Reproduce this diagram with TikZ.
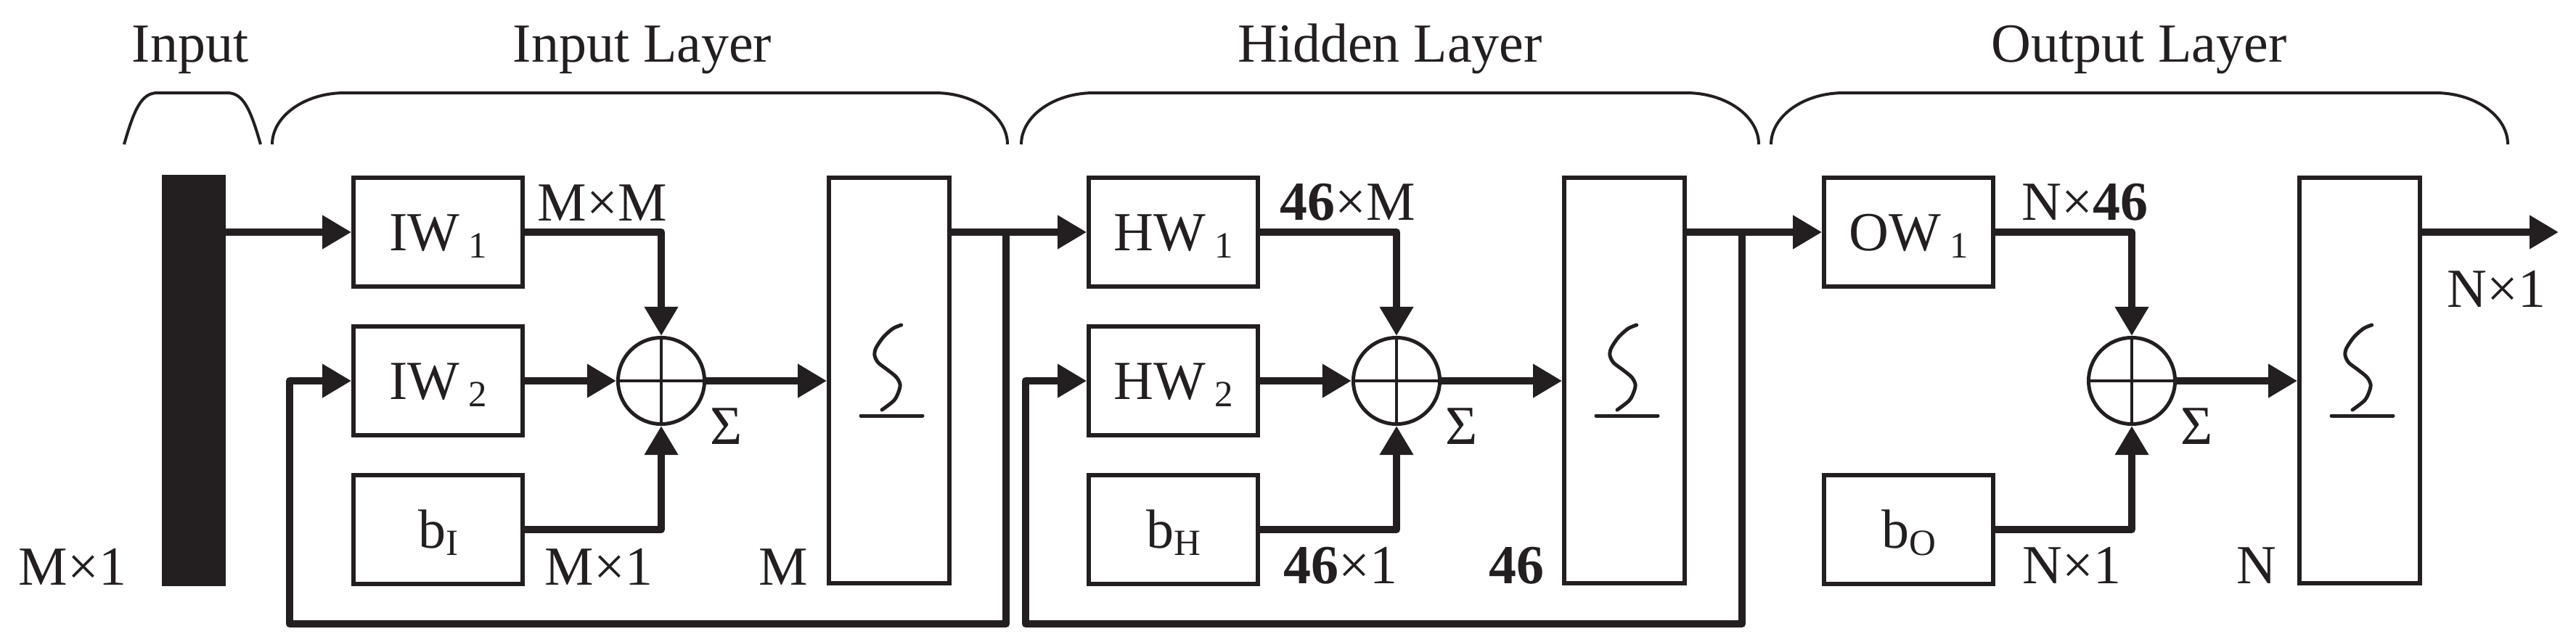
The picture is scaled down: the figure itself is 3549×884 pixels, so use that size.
\documentclass[tikz,border=0pt]{standalone}
\usepackage{fontspec}
\setmainfont{Liberation Serif}
\usetikzlibrary{arrows.meta,calc}
\definecolor{ink}{HTML}{231F20}
\newcommand\lowsub[1]{\raisebox{-0.1cm}{\fontsize{14.5pt}{14.5pt}\selectfont #1}}
\newcommand\wsub[1]{\kern0.12cm\lowsub{#1}}
\begin{document}
\begin{tikzpicture}[x=0.01cm,y=-0.01cm,
  font=\fontsize{21.6pt}{26pt}\selectfont, text=ink,
  box/.style={draw=ink, line width=0.055cm, minimum width=2.33cm, minimum height=1.5cm, inner sep=0pt, text height=0.5cm, text depth=0pt},
  sigbox/.style={draw=ink, line width=0.055cm, minimum width=1.66cm, minimum height=5.59cm, inner sep=0pt},
  sumnode/.style={circle, draw=ink, line width=0.05cm, minimum size=1.19cm, inner sep=0pt},
  cross/.style={draw=ink, line width=0.037cm},
  conn/.style={draw=ink, line width=0.1cm, line cap=round, line join=round},
  arr/.style={conn, -{Triangle[length=0.4cm,width=0.44cm]}},
  brace/.style={draw=ink, line width=0.04cm},
  sigcurve/.style={draw=ink, line width=0.05cm, line cap=round},
  lbl/.style={inner sep=0pt, anchor=base west},
  lble/.style={inner sep=0pt, anchor=base east},
  ttl/.style={inner sep=0pt, anchor=base}]
\useasboundingbox (0,0) rectangle (3549,884);

% titles
\node[ttl] (tIn) at (262,85) {Input};
\node[ttl] (tIL) at (885,85) {Input Layer};
\node[ttl] (tHL) at (1915,85) {Hidden Layer};
\node[ttl] (tOL) at (2947,85) {Output Layer};

% braces
\draw[brace] (171,199) .. controls (185,150) and (195,128) .. (217,128) -- (313,128) .. controls (335,128) and (345,150) .. (359,199);
\draw[brace] (375,199) .. controls (375,160) and (420,128) .. (475,128) -- (1288,128) .. controls (1343,128) and (1388,160) .. (1388,199);
\draw[brace] (1407,199) .. controls (1407,160) and (1452,128) .. (1507,128) -- (2323,128) .. controls (2378,128) and (2423,160) .. (2423,199);
\draw[brace] (2440,199) .. controls (2440,160) and (2485,128) .. (2540,128) -- (3355,128) .. controls (3410,128) and (3455,160) .. (3455,199);

% input bar
\node[fill=ink, minimum width=0.88cm, minimum height=5.67cm, inner sep=0pt] (inbar) at (267,524.5) {};

% layer 1
\node[box] (IW1) at (603.5,320) {IW\wsub{1}};
\node[box] (IW2) at (603.5,525) {IW\wsub{2}};
\node[box] (bI) at (603.5,730) {b\lowsub{I}};
\node[sumnode] (sum1) at (911,525) {};
\node[sigbox] (sig1) at (1225,524.5) {};

% layer 2
\node[box] (HW1) at (1616.5,320) {HW\wsub{1}};
\node[box] (HW2) at (1616.5,525) {HW\wsub{2}};
\node[box] (bH) at (1616.5,730) {b\lowsub{H}};
\node[sumnode] (sum2) at (1924,525) {};
\node[sigbox] (sig2) at (2238,524.5) {};

% layer 3
\node[box] (OW1) at (2629.5,320) {OW\wsub{1}};
\node[box] (bO) at (2629.5,730) {b\lowsub{O}};
\node[sumnode] (sum3) at (2937,525) {};
\node[sigbox] (sig3) at (3251,524.5) {};

% crosses and sigma labels
\foreach \s in {sum1,sum2,sum3}{
  \draw[cross] (\s.north) -- (\s.south) (\s.west) -- (\s.east);
  \node[lbl] (\s-lab) at ($(\s.center)+(67,87)$) {Σ};
}

% sigmoid symbols
\foreach \s in {sig1,sig2,sig3}{
  \begin{scope}[shift={(\s.center)}]
    \draw[sigcurve] plot[smooth] coordinates {(16.7,-76.5) (5,-71.5) (-8.3,-59.5) (-18.3,-44.5) (-20,-34.5) (-15,-24.5) (-2,-14.5) (10,-4.5) (15,5.5) (13,15.5) (6.7,27.5) (-10,40.5)};
    \draw[sigcurve] (-39,48.5) -- (46,48.5);
  \end{scope}
}

% feedback coordinates
\coordinate (j1) at (1386,320);
\coordinate (f1r) at (1386,860);
\coordinate (f1l) at (399,860);
\coordinate (j2) at (2400,320);
\coordinate (f2r) at (2400,860);
\coordinate (f2l) at (1413,860);
\coordinate (outend) at (3525,320);

% connectors layer 1
\draw[arr] (inbar.east |- IW1.west) -- (IW1.west);
\draw[arr] (IW1.east) -- (IW1.east -| sum1.north) -- (sum1.north);
\draw[arr] (IW2.east) -- (sum1.west);
\draw[arr] (bI.east) -- (bI.east -| sum1.south) -- (sum1.south);
\draw[arr] (sum1.east) -- (sum1.east -| sig1.west);
\draw[arr] (sig1.east |- IW1.east) -- (HW1.west);
\draw[arr] (j1) -- (f1r) -- (f1l) -- (f1l |- IW2.west) -- (IW2.west);

% connectors layer 2
\draw[arr] (HW1.east) -- (HW1.east -| sum2.north) -- (sum2.north);
\draw[arr] (HW2.east) -- (sum2.west);
\draw[arr] (bH.east) -- (bH.east -| sum2.south) -- (sum2.south);
\draw[arr] (sum2.east) -- (sum2.east -| sig2.west);
\draw[arr] (sig2.east |- HW1.east) -- (OW1.west);
\draw[arr] (j2) -- (f2r) -- (f2l) -- (f2l |- HW2.west) -- (HW2.west);

% connectors layer 3
\draw[arr] (OW1.east) -- (OW1.east -| sum3.north) -- (sum3.north);
\draw[arr] (bO.east) -- (bO.east -| sum3.south) -- (sum3.south);
\draw[arr] (sum3.east) -- (sum3.east -| sig3.west);
\draw[arr] (sig3.east |- OW1.east) -- (outend);

% dimension labels
\node[lbl] (dIn) at (25,806) {M×1};
\node[lbl] (d1a) at (740,304) {M×M};
\node[lbl] (d1b) at (750,806) {M×1};
\node[lble] (d1c) at (1114,806) {M};
\node[lbl] (d2a) at (1763,303) {{\bfseries 46}×M};
\node[lbl] (d2b) at (1768,804) {{\bfseries 46}×1};
\node[lble] (d2c) at (2128,804) {{\bfseries 46}};
\node[lbl] (d3a) at (2785,303) {N×{\bfseries 46}};
\node[lbl] (d3b) at (2786,804) {N×1};
\node[lble] (d3c) at (3137,804) {N};
\node[lbl] (dOut) at (3371,423) {N×1};
\end{tikzpicture}
\end{document}
